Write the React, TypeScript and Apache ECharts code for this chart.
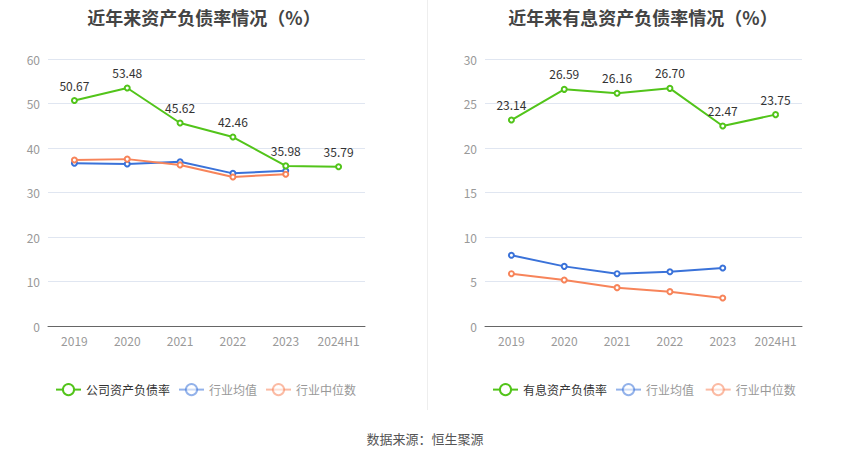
import React, { useEffect, useRef } from "react";
import * as echarts from "echarts";

const years = ["2019", "2020", "2021", "2022", "2023", "2024H1"];
const companyDebt = [50.67, 53.48, 45.62, 42.46, 35.98, 35.79];
const industryAvgDebt = [36.6, 36.4, 36.9, 34.3, 34.9, null];
const industryMedDebt = [37.3, 37.5, 36.2, 33.5, 34.1, null];
const interestDebt = [23.14, 26.59, 26.16, 26.7, 22.47, 23.75];
const industryAvgInterest = [7.94, 6.7, 5.88, 6.1, 6.52, null];
const industryMedInterest = [5.88, 5.17, 4.31, 3.86, 3.15, null];

const GREEN = "#52c41a";
const BLUE = "#3a72d9";
const ORANGE = "#f7845a";
const FONT = "'Noto Sans CJK SC', 'Noto Sans', sans-serif";

export default function App() {
  const ref = useRef<HTMLDivElement>(null);
  useEffect(() => {
    const chart = echarts.init(ref.current!, null, { renderer: "svg" });
    const axisX = (gridIndex: number) => ({
      type: "category",
      gridIndex,
      data: years,
      boundaryGap: true,
      axisLine: { lineStyle: { color: "#666" } },
      axisTick: { alignWithLabel: true, interval: 0, lineStyle: { color: "#666" } },
      axisLabel: { color: "#999", fontSize: 12, margin: 8, interval: 0, fontFamily: FONT },
    });
    const axisY = (gridIndex: number, max: number, interval: number) => ({
      type: "value",
      gridIndex,
      min: 0,
      max,
      interval,
      axisLine: { show: false },
      axisTick: { show: false },
      axisLabel: { color: "#999", fontSize: 12, fontFamily: FONT },
      splitLine: { lineStyle: { color: "#e0e6f1" } },
    });
    const line = (
      name: string,
      data: (number | null)[],
      color: string,
      idx: number,
      label: boolean
    ) => ({
      type: "line",
      name,
      data,
      xAxisIndex: idx,
      yAxisIndex: idx,
      symbol: "emptyCircle",
      symbolSize: 5,
      lineStyle: { color, width: 2 },
      itemStyle: { color },
      label: label
        ? {
            show: true,
            position: "top",
            color: "#333",
            fontSize: 12,
            fontFamily: FONT,
            distance: 6,
            formatter: (p: any) => Number(p.value).toFixed(2),
          }
        : { show: false },
      z: label ? 3 : 2,
    });
    const legend = (left: number, names: string[]) => ({
      top: 383,
      left,
      padding: 0,
      itemWidth: 25,
      itemHeight: 14,
      itemGap: 8,
      selectedMode: false,
      textStyle: { fontSize: 12, fontFamily: FONT },
      data: [
        { name: names[0], textStyle: { color: "#333" } },
        { name: names[1], textStyle: { color: "#999" }, itemStyle: { opacity: 0.55 }, lineStyle: { opacity: 0.55 } },
        { name: names[2], textStyle: { color: "#999" }, itemStyle: { opacity: 0.55 }, lineStyle: { opacity: 0.55 } },
      ],
    });
    chart.setOption({
      animation: false,
      textStyle: { fontFamily: FONT },
      title: [
        {
          text: "近年来资产负债率情况（%）",
          left: 199,
          textAlign: "center",
          top: 3,
          textStyle: { fontSize: 18, fontWeight: "bold", color: "#444", fontFamily: FONT },
        },
        {
          text: "近年来有息资产负债率情况（%）",
          left: 638,
          textAlign: "center",
          top: 3,
          textStyle: { fontSize: 18, fontWeight: "bold", color: "#444", fontFamily: FONT },
        },
      ],
      grid: [
        { left: 48, top: 59, width: 317, height: 267 },
        { left: 485, top: 59, width: 317, height: 267 },
      ],
      xAxis: [axisX(0), axisX(1)],
      yAxis: [axisY(0, 60, 10), axisY(1, 30, 5)],
      legend: [
        legend(55, ["公司资产负债率", "行业均值", "行业中位数"]),
        legend(492, ["有息资产负债率", "行业均值 ", "行业中位数 "]),
      ],
      series: [
        line("公司资产负债率", companyDebt, GREEN, 0, true),
        line("行业均值", industryAvgDebt, BLUE, 0, false),
        line("行业中位数", industryMedDebt, ORANGE, 0, false),
        line("有息资产负债率", interestDebt, GREEN, 1, true),
        line("行业均值 ", industryAvgInterest, BLUE, 1, false),
        line("行业中位数 ", industryMedInterest, ORANGE, 1, false),
      ],
      graphic: [
        {
          type: "line",
          shape: { x1: 427.5, y1: 0, x2: 427.5, y2: 410 },
          style: { stroke: "#eeeeee", lineWidth: 1 },
        },
        {
          type: "text",
          x: 425,
          y: 438,
          style: {
            text: "数据来源：恒生聚源",
            fill: "#555",
            fontSize: 13,
            fontFamily: FONT,
            textAlign: "center",
            textVerticalAlign: "middle",
          },
        },
      ],
    });
    return () => chart.dispose();
  }, []);
  return (
    <div
      ref={ref}
      style={{ position: "fixed", left: 0, top: 0, width: 850, height: 459, background: "#fff" }}
    />
  );
}
